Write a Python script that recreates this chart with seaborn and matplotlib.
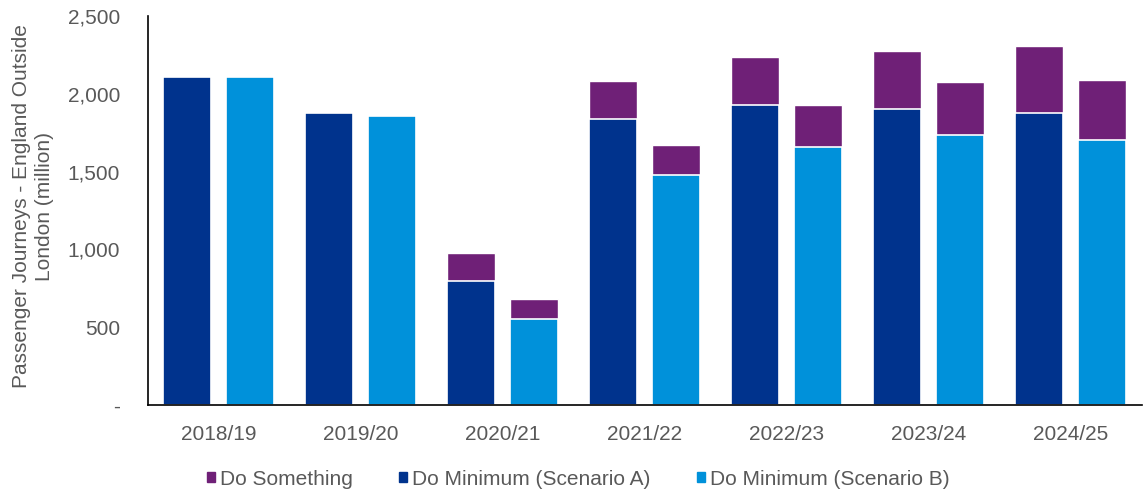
import pandas as pd
import numpy as np
import matplotlib
matplotlib.use("Agg")
import matplotlib.pyplot as plt
from matplotlib.patches import Patch
import seaborn as sns

# values (million journeys)
years = ["2018/19", "2019/20", "2020/21", "2021/22", "2022/23", "2023/24", "2024/25"]
dm_a = [2110, 1875, 797, 1838, 1924, 1900, 1879]
dm_b = [2110, 1855, 553, 1478, 1660, 1733, 1701]
ds_a = [2110, 1875, 977, 2082, 2234, 2275, 2309]   # Do Something total, scenario A
ds_b = [2110, 1855, 679, 1671, 1926, 2072, 2087]   # Do Something total, scenario B

PURPLE = "#6F2077"
NAVY = "#00338D"
BLUE = "#0091DA"
GREY = "#595959"
FS = 15

sns.set_style("white")
plt.rcParams["font.family"] = ["Liberation Sans", "DejaVu Sans"]

scen = ["A", "B"]
base = pd.DataFrame({
    "year": years * 2,
    "scenario": ["A"] * 7 + ["B"] * 7,
    "value": dm_a + dm_b,
})
total = pd.DataFrame({
    "year": years * 2,
    "scenario": ["A"] * 7 + ["B"] * 7,
    "value": ds_a + ds_b,
})

fig, ax = plt.subplots(figsize=(11.45, 4.94), dpi=100)
fig.subplots_adjust(left=0.129, right=0.997, top=0.968, bottom=0.180)

# totals (Do Something) first, then base bars on top
sns.barplot(data=total, x="year", y="value", hue="scenario", hue_order=scen,
            palette={"A": PURPLE, "B": PURPLE}, width=0.887, gap=0.24, saturation=1,
            edgecolor="white", linewidth=1, errorbar=None, legend=False, ax=ax)
sns.barplot(data=base, x="year", y="value", hue="scenario", hue_order=scen,
            palette={"A": NAVY, "B": BLUE}, width=0.887, gap=0.24, saturation=1,
            edgecolor="white", linewidth=1.2, errorbar=None, legend=False, ax=ax)

ax.set_xlim(-0.5, 6.5)
ax.set_ylim(0, 2500)
ax.set_yticks([0, 500, 1000, 1500, 2000, 2500])
ax.set_yticklabels(["-", "500", "1,000", "1,500", "2,000", "2,500"])
ax.set_xlabel("")
ax.set_ylabel("Passenger Journeys - England Outside\nLondon (million)",
              fontsize=FS, color=GREY, linespacing=1.3)
ax.yaxis.set_label_coords(-0.094, 0.51)

ax.set_xticks(np.arange(-0.5, 7, 1), minor=True)
ax.tick_params(axis="x", which="major", length=0, labelsize=FS, labelcolor=GREY, pad=14)
ax.tick_params(axis="x", which="minor", length=5, width=1.2, color="black", direction="out")
ax.tick_params(axis="y", length=5, width=1.2, color="black", direction="out",
               labelsize=FS, labelcolor=GREY, pad=15)

for s in ["top", "right"]:
    ax.spines[s].set_visible(False)
for s in ["left", "bottom"]:
    ax.spines[s].set_color("black")
    ax.spines[s].set_linewidth(1.2)

handles = [Patch(color=PURPLE), Patch(color=NAVY), Patch(color=BLUE)]
labels = ["Do Something", "Do Minimum (Scenario A)", "Do Minimum (Scenario B)"]
leg = fig.legend(handles, labels, loc="center", bbox_to_anchor=(0.505, 0.03), ncol=3,
                 frameon=False, handlelength=0.4, handleheight=0.4, handletextpad=0.25,
                 columnspacing=2.2, fontsize=FS)
for t in leg.get_texts():
    t.set_color(GREY)

fig.savefig("out.png", dpi=100)
